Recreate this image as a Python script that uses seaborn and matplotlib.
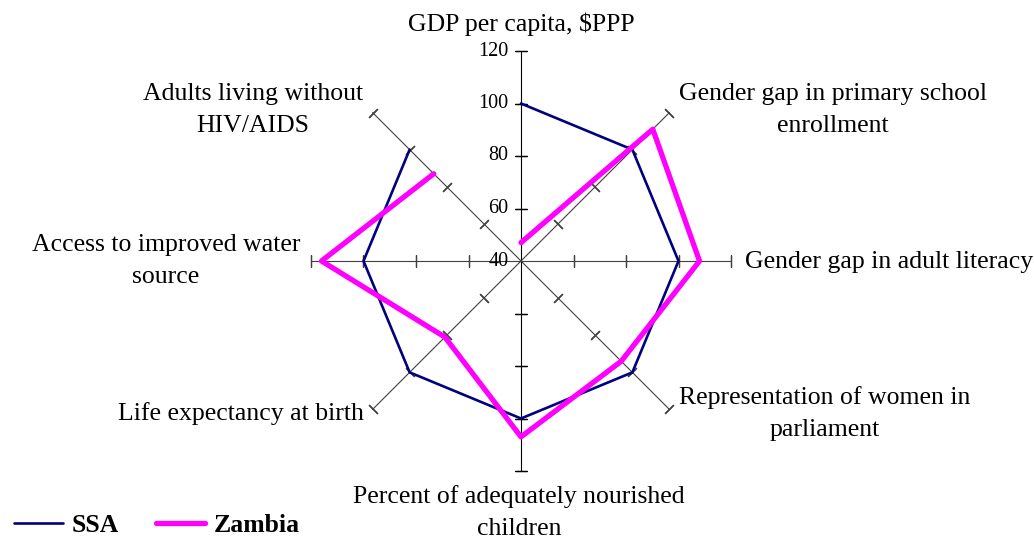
import numpy as np
import matplotlib
matplotlib.use('Agg')
import matplotlib.pyplot as plt
import seaborn as sns

categories = ['GDP per capita, $PPP',
              'Gender gap in primary school\nenrollment',
              'Gender gap in adult literacy',
              'Representation of women in\nparliament',
              'Percent of adequately nourished\nchildren',
              'Life expectancy at birth',
              'Access to improved water\nsource',
              'Adults living without\nHIV/AIDS']
ssa = [100, 100, 100, 100, 100, 100, 100, 100]
zambia = [47, 111, 108, 94, 107, 81, 116, 87]
scale_ticks = [40, 60, 80, 100, 120]

sns.set_style('white')
plt.rcParams['font.family'] = ['Liberation Serif', 'DejaVu Serif']
plt.rcParams['text.color'] = 'black'

W, H = 1034, 544
fig = plt.figure(figsize=(W / 100, H / 100), dpi=100)
cx, cy, rad = 521, 261, 210
ax = fig.add_axes([(cx - rad) / W, (H - cy - rad) / H, 2 * rad / W, 2 * rad / H],
                  projection='polar')
ax.set_theta_zero_location('N')
ax.set_theta_direction(-1)
ax.set_ylim(40, 120)
ax.grid(False)
ax.spines['polar'].set_visible(False)
ax.set_xticks([])
ax.set_yticks([])
ax.patch.set_alpha(0)

angles = np.linspace(0, 2 * np.pi, len(categories), endpoint=False)

# spokes with perpendicular tick marks
for i, a in enumerate(angles):
    col = 'black' if i in (0, 4) else '#404040'
    ax.plot([a, a], [40, 120], color=col, lw=0.8, clip_on=False, zorder=1)
    deg = np.degrees(a)
    ax.plot([a] * 4, scale_ticks[1:], ls='none', marker=(2, 2, 90 - deg),
            ms=9, mew=0.9, color=col, clip_on=False, zorder=1)

for v in scale_ticks:
    ax.annotate(str(v), xy=(0, v), xytext=(-9, 0), textcoords='offset points',
                ha='right', va='center', fontsize=14.5, color='black')

a_closed = np.append(angles, angles[0])
sns.lineplot(x=a_closed, y=ssa + ssa[:1], ax=ax, sort=False, color='#000080',
             lw=1.9, label='SSA', zorder=3)
sns.lineplot(x=a_closed, y=zambia + zambia[:1], ax=ax, sort=False, color='#FF00FF',
             lw=3.8, label='Zambia', zorder=4)
ax.set_xlabel('')
ax.set_ylabel('')
handles, labels = ax.get_legend_handles_labels()
ax.get_legend().remove()

# category labels (pixel anchors: x, last-line baseline, alignment)
label_pos = [(521, 31, 'center'), (833, 132, 'center'), (745, 268, 'left'),
             (825, 436, 'center'), (519, 535, 'center'), (364, 420, 'right'),
             (166, 283, 'center'), (253, 132, 'center')]
for text, (x, y, ha) in zip(categories, label_pos):
    fig.text(x / W, 1 - y / H, text, ha=ha, va='baseline', fontsize=18.5,
             multialignment='center', linespacing=1.58, color='black')

fig.legend(handles, labels, loc='lower left', bbox_to_anchor=(-0.009, -0.03),
           ncol=2, frameon=False, handlelength=1.9, handletextpad=0.35,
           columnspacing=1.45,
           prop={'family': 'Liberation Serif', 'weight': 'bold', 'size': 18.5})

fig.savefig('out.png', dpi=100)
